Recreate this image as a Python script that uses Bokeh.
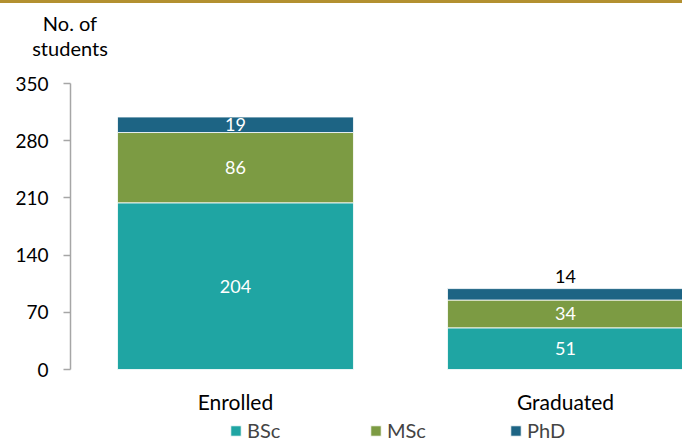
from bokeh.plotting import figure
from bokeh.models import ColumnDataSource, Legend, LegendItem, Range1d, Div, FixedTicker
from bokeh.layouts import column
from bokeh.embed import file_html
from bokeh.resources import INLINE
from bokeh.core.properties import value

categories = ["Enrolled", "Graduated"]
levels = ["BSc", "MSc", "PhD"]
bsc = [204, 51]
msc = [86, 34]
phd = [19, 14]
colors = ["#1fa5a3", "#7c9b43", "#1d6484"]
y_ticks = [0, 70, 140, 210, 280, 350]
y_title = ["No. of", "students"]

FONT = "Lato"
PX = 286 / 350          # pixels per data unit on the value axis
FRAME_H = 359           # value axis area + category labels + legend strip
x = [i + 0.5 for i in range(len(categories))]
src = ColumnDataSource(dict(x=x, BSc=bsc, MSc=msc, PhD=phd))

p = figure(frame_width=612, frame_height=FRAME_H,
           x_range=Range1d(0, 612 / 330), y_range=Range1d(350 - FRAME_H / PX, 350),
           output_backend="svg", toolbar_location=None, margin=0,
           min_border_left=70, min_border_top=19, min_border_right=0, min_border_bottom=0)
p.outline_line_color = None
p.xgrid.visible = False
p.ygrid.visible = False
p.xaxis.visible = False

rs = p.vbar_stack(levels, x="x", width=0.715, source=src, color=colors,
                  line_color="white", line_width=0.8)

# value labels
series = [bsc, msc, phd]
in_x, in_y, in_t = [], [], []
out_x, out_y, out_t = [], [], []
for j in range(len(categories)):
    bottom = 0
    for s in series:
        v = s[j]
        if v * PX >= 14:
            in_x.append(x[j]); in_y.append(bottom + v / 2); in_t.append(str(v))
        else:
            out_x.append(x[j]); out_y.append(bottom + v + 12 / PX); out_t.append(str(v))
        bottom += v

p.text(x=in_x, y=in_y, text=in_t, text_color="white", text_align="center",
       text_baseline="middle", text_font=value(FONT), text_font_size="18px")
p.text(x=out_x, y=out_y, text=out_t, text_color="black", text_align="center",
       text_baseline="middle", text_font=value(FONT), text_font_size="18px")

# category labels under the bars
p.text(x=x, y=[-32 / PX] * len(categories), text=categories, text_color="black",
       text_align="center", text_baseline="middle", text_font=value(FONT), text_font_size="21px")

# y axis
ya = p.yaxis[0]
ya.ticker = FixedTicker(ticks=y_ticks)
ya.bounds = (0, 350)
ya.axis_line_color = "#a6a6a6"
ya.axis_line_width = 1.5
ya.major_tick_line_color = "#a6a6a6"
ya.major_tick_line_width = 1.5
ya.major_tick_in = 0
ya.major_tick_out = 7
ya.minor_tick_line_color = None
ya.major_label_standoff = 15
ya.major_label_text_font = FONT
ya.major_label_text_font_size = "19px"
ya.major_label_text_color = "black"

legend = Legend(items=[LegendItem(label=l, renderers=[r]) for l, r in zip(levels, rs)],
                orientation="horizontal", location=(159, 0), padding=0, margin=0,
                glyph_width=13, glyph_height=13, label_standoff=5, label_width=122, spacing=0,
                label_height=20,
                label_text_font=FONT, label_text_font_size="20px",
                border_line_alpha=0, background_fill_alpha=0)
p.add_layout(legend, "center")

head_html = ('<div style="height:3px;width:682px;background-color:#b39030;"></div>'
             '<div style="width:140px;padding-top:8px;line-height:25px;text-align:center;'
             'font-family:Lato;font-size:20px;color:black;">' + "<br>".join(y_title) + '</div>')
head = Div(text=head_html, width=682, height=64, margin=0)
layout = column(head, p, spacing=0, margin=0)

open("out.html", "w").write(file_html(layout, INLINE))
